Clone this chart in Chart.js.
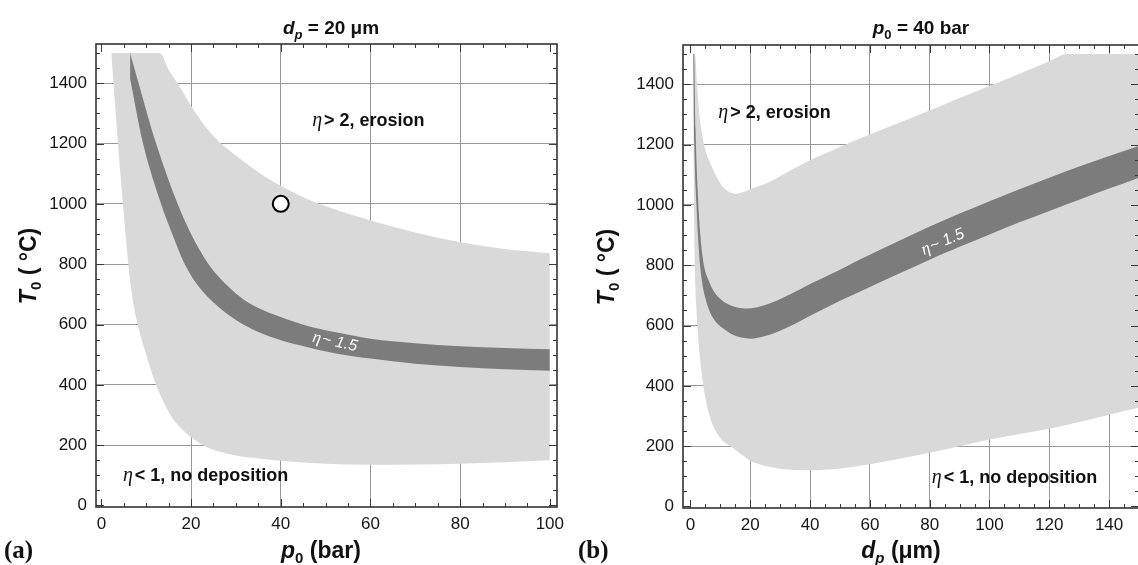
<!DOCTYPE html>
<html><head><meta charset="utf-8"><title>eta regions</title>
<script src="https://cdn.jsdelivr.net/npm/chart.js@4.4.1/dist/chart.umd.min.js"></script>
<style>
html,body{margin:0;padding:0;background:#fff;overflow:hidden}
#wrap{position:relative;width:1138px;height:565px;overflow:hidden;background:#fff}
#ca{position:absolute;left:0;top:0}
#cb{position:absolute;left:570px;top:0}
</style></head><body>
<div id="wrap"><canvas id="ca" width="570" height="565"></canvas><canvas id="cb" width="570" height="565"></canvas></div>
<script>
// ---------------- data ----------------
const aTickX = [0, 20, 40, 60, 80, 100];
const bTickX = [0, 20, 40, 60, 80, 100, 120, 140];
const tickT  = [0, 200, 400, 600, 800, 1000, 1200, 1400];

// (a) d_p = 20 um : T0 vs p0
const aLightTopP = [2.2, 13, 15, 17, 20, 23, 26.7, 30, 35, 40, 45, 50, 60, 70, 80, 90, 100];
const aLightTopT = [1500, 1500, 1445, 1400, 1325, 1260, 1200, 1160, 1105, 1060, 1022, 992, 945, 905, 873, 850, 836];
const aLightBotP = [2.2, 3.0, 3.7, 4.8, 6.0, 6.4, 7.2, 8.1, 10.0, 12.2, 15.4, 18.5, 22.7, 26, 30, 35, 40, 50, 60, 70, 80, 90, 100];
const aLightBotT = [1500, 1340, 1200, 1000, 800, 746, 665, 600, 500, 400, 300, 245, 200, 180, 166, 156, 148, 138, 135, 136, 138, 143, 150];
const aBandTopP  = [6.4, 8.3, 12.2, 17, 20, 23.9, 28, 32, 36, 40, 46, 52, 60, 70, 80, 90, 100];
const aBandTopT  = [1500, 1400, 1200, 1000, 900, 800, 730, 680, 648, 625, 595, 575, 553, 538, 528, 522, 518];
const aBandBotP  = [5.3, 6.6, 9.3, 13.3, 15.8, 18.6, 22, 26, 30, 35, 40, 46, 52, 60, 70, 80, 90, 100];
const aBandBotT  = [1500, 1400, 1200, 1000, 900, 800, 720, 660, 615, 575, 548, 525, 505, 487, 470, 459, 452, 447];
const aPointP = [40];
const aPointT = [1000];

// (b) p0 = 40 bar : T0 vs d_p
const bLightTopD = [0.9, 1.5, 2.2, 2.9, 3.7, 5, 7, 9, 10.8, 13, 15, 17, 20, 25, 30, 35, 40, 50, 60, 70, 80, 90, 100, 110, 120, 126, 150];
const bLightTopT = [1500, 1500, 1400, 1310, 1245, 1180, 1130, 1088, 1060, 1043, 1037, 1040, 1052, 1070, 1095, 1122, 1148, 1192, 1233, 1273, 1313, 1354, 1394, 1435, 1476, 1500, 1500];
const bLightBotD = [0.9, 1.1, 1.35, 1.6, 2, 2.5, 3.2, 4, 5, 6, 7, 8, 9, 10.8, 13, 15.4, 17.5, 19.9, 22, 25, 30, 35, 40, 50, 60, 70, 80, 90, 100, 110, 120, 130, 140, 150];
const bLightBotT = [1500, 1100, 850, 740, 650, 570, 490, 420, 360, 315, 282, 258, 240, 218, 202, 185, 169, 152, 143, 134, 125, 121, 120, 126, 140, 158, 178, 200, 222, 240, 258, 280, 304, 328];
const bBandTopD  = [0.9, 1.2, 1.7, 2.4, 3.3, 4.5, 6, 8, 10.5, 14, 19, 25, 30, 35, 40, 43, 50, 54, 60, 70, 80, 85, 90, 100, 110, 120, 130, 140, 150];
const bBandTopT  = [1500, 1500, 1250, 1050, 900, 800, 752, 710, 684, 665, 656, 668, 688, 712, 738, 752, 785, 806, 835, 882, 928, 950, 971, 1012, 1052, 1090, 1127, 1162, 1195];
const bBandBotD  = [0.9, 1.3, 2.0, 2.8, 3.8, 5, 6.5, 8.5, 11, 14, 17, 20, 25, 30, 35, 40, 45, 50, 54, 60, 70, 80, 85, 90, 100, 110, 120, 130, 140, 150];
const bBandBotT  = [1500, 1200, 1000, 850, 750, 690, 645, 612, 590, 570, 560, 556, 565, 583, 606, 632, 657, 682, 700, 728, 773, 818, 840, 861, 902, 942, 980, 1017, 1054, 1090];

// ---------------- fonts ----------------
function hasFont(name) {
  const c = document.createElement('canvas').getContext('2d');
  const s = 'mmmmmwwwwlli1400';
  c.font = '40px monospace'; const w1 = c.measureText(s).width;
  c.font = '40px "' + name + '", monospace'; const w2 = c.measureText(s).width;
  c.font = '40px serif'; const w3 = c.measureText(s).width;
  c.font = '40px "' + name + '", serif'; const w4 = c.measureText(s).width;
  return w1 !== w2 || w3 !== w4;
}
const NARROW = hasFont('Liberation Sans Narrow');
const TICK_FONT = NARROW ? {family: '"Liberation Sans Narrow", "Liberation Sans", sans-serif', size: 21}
                         : {family: '"Liberation Sans", Arial, sans-serif', size: 17};
const SANS = '"Liberation Sans", Arial, sans-serif';
const SERIF = '"Liberation Serif", "Times New Roman", serif';
const B  = s => 'bold ' + s + 'px ' + SANS;
const BI = s => 'italic bold ' + s + 'px ' + SANS;
const I  = s => 'italic ' + s + 'px ' + SANS;
const ETA = s => 'italic ' + s + 'px ' + SERIF;

// ---------------- helpers ----------------
const pts = (xs, ys) => xs.map((x, i) => ({x: x, y: ys[i]}));
const LIGHT = '#d9d9d9';
const DARK = '#7c7c7c';
const GRID = '#999999';

function drawRich(ctx, parts, x, y, align, rot, baseline) {
  ctx.save();
  ctx.translate(x, y);
  if (rot) ctx.rotate(rot);
  ctx.textBaseline = baseline || 'alphabetic';
  ctx.textAlign = 'left';
  let w = 0;
  parts.forEach(p => { ctx.font = p[1]; w += ctx.measureText(p[0]).width + (p[3] || 0); });
  let cx = align === 'center' ? -w / 2 : (align === 'right' ? -w : 0);
  parts.forEach(p => {
    ctx.font = p[1];
    ctx.fillStyle = p[4] || '#111';
    ctx.fillText(p[0], cx, p[2] || 0);
    cx += ctx.measureText(p[0]).width + (p[3] || 0);
  });
  ctx.restore();
}

const framePlugin = {
  id: 'frameTicks',
  afterDatasetsDraw(chart, args, opts) {
    const {ctx, chartArea: a} = chart;
    const xs = chart.scales.x, ys = chart.scales.y;
    ctx.save();
    ctx.strokeStyle = '#3a3a3a';
    ctx.lineWidth = 1;
    const xStart = Math.ceil(xs.min / opts.xMinor) * opts.xMinor;
    for (let v = xStart; v <= xs.max + 1e-9; v += opts.xMinor) {
      const px = Math.round(xs.getPixelForValue(v)) + 0.5;
      const L = (Math.abs(v % opts.xMajor) < 1e-9) ? 8 : 4;
      ctx.beginPath();
      ctx.moveTo(px, a.bottom); ctx.lineTo(px, a.bottom - L);
      ctx.moveTo(px, a.top); ctx.lineTo(px, a.top + L);
      ctx.stroke();
    }
    const yStart = Math.ceil(ys.min / opts.yMinor) * opts.yMinor;
    for (let v = yStart; v <= ys.max + 1e-9; v += opts.yMinor) {
      const py = Math.round(ys.getPixelForValue(v)) + 0.5;
      const L = (Math.abs(v % opts.yMajor) < 1e-9) ? 8 : 4;
      ctx.beginPath();
      ctx.moveTo(a.left, py); ctx.lineTo(a.left + L, py);
      ctx.moveTo(a.right, py); ctx.lineTo(a.right - L, py);
      ctx.stroke();
    }
    ctx.strokeStyle = '#333';
    ctx.lineWidth = 1.6;
    ctx.strokeRect(a.left, a.top, a.right - a.left, a.bottom - a.top);
    ctx.restore();
  }
};

const textPlugin = {
  id: 'richText',
  afterDraw(chart, args, opts) {
    const ctx = chart.ctx, xs = chart.scales.x, ys = chart.scales.y;
    (opts.items || []).forEach(it => {
      const x = it.data ? xs.getPixelForValue(it.data[0]) : it.px[0];
      const y = it.data ? ys.getPixelForValue(it.data[1]) : it.px[1];
      drawRich(ctx, it.parts, x, y, it.align || 'left', it.rot || 0, it.baseline);
    });
  }
};

function makeChart(canvas, c) {
  const W = canvas.width, H = canvas.height;
  return new Chart(canvas, {
    type: 'line',
    data: {datasets: c.datasets},
    options: {
      responsive: false,
      animation: false,
      events: [],
      layout: {padding: {left: 0, top: c.area.top, right: W - c.area.right, bottom: 0}},
      plugins: {
        legend: {display: false},
        tooltip: {enabled: false},
        title: {display: false},
        frameTicks: {xMinor: 5, xMajor: 20, yMinor: 50, yMajor: 200},
        richText: {items: c.texts}
      },
      scales: {
        x: {
          type: 'linear', min: c.xMin, max: c.xMax,
          afterBuildTicks: s => { s.ticks = c.ticksX.map(v => ({value: v})); },
          afterFit: s => { s.height = H - c.area.bottom; s.paddingLeft = 0; s.paddingRight = 0; s.paddingTop = 0; s.paddingBottom = 0; },
          grid: {
            drawTicks: false,
            color: g => (g.tick && c.noGridX.indexOf(g.tick.value) >= 0) ? 'rgba(0,0,0,0)' : GRID,
            lineWidth: 1
          },
          border: {display: false},
          ticks: {
            padding: NARROW ? 4 : 7, maxRotation: 0, autoSkip: false, color: '#161616',
            font: TICK_FONT, callback: v => String(v)
          }
        },
        y: {
          type: 'linear', min: -5, max: 1530,
          afterBuildTicks: s => { s.ticks = tickT.map(v => ({value: v})); },
          afterFit: s => { s.width = c.area.left; s.paddingLeft = 0; s.paddingRight = 0; s.paddingTop = 0; s.paddingBottom = 0; },
          grid: {
            drawTicks: false,
            color: g => (g.tick && g.tick.value === 0) ? 'rgba(0,0,0,0)' : GRID,
            lineWidth: 1
          },
          border: {display: false},
          ticks: {padding: 9, color: '#161616', font: TICK_FONT, callback: v => String(v)}
        }
      }
    },
    plugins: [framePlugin, textPlugin]
  });
}

function regionSets(pointSet, bandTop, bandBot, lightTop, lightBot) {
  const base = {showLine: true, borderColor: 'rgba(0,0,0,0)', borderWidth: 0, pointRadius: 0,
                cubicInterpolationMode: 'monotone'};
  return [
    {data: pointSet, showLine: false, pointRadius: 8, pointBackgroundColor: '#fff',
     pointBorderColor: '#000', pointBorderWidth: 2, fill: false},
    Object.assign({data: bandTop, fill: 2, backgroundColor: DARK}, base),
    Object.assign({data: bandBot, fill: false}, base),
    Object.assign({data: lightTop, fill: 4, backgroundColor: LIGHT}, base),
    Object.assign({data: lightBot, fill: false}, base)
  ];
}

// ---------------- chart (a) ----------------
makeChart(document.getElementById('ca'), {
  xMin: -1.2, xMax: 101.6, ticksX: aTickX, noGridX: [0, 100],
  area: {left: 96, right: 557, top: 44, bottom: 507},
  datasets: regionSets(pts(aPointP, aPointT), pts(aBandTopP, aBandTopT), pts(aBandBotP, aBandBotT),
                       pts(aLightTopP, aLightTopT), pts(aLightBotP, aLightBotT)),
  texts: [
    {px: [331, 34], align: 'center', parts: [['d', BI(19)], ['p', BI(13), 5], [' = 20 \u03bcm', B(19)]]},
    {px: [321, 558], align: 'center', parts: [['p', BI(23)], ['0', B(15), 5], [' (bar)', B(23)]]},
    {px: [36, 266], align: 'center', rot: -Math.PI / 2, parts: [['T', BI(23)], ['0', B(15), 5], [' ( \u00b0C)', B(23)]]},
    {px: [4, 558], parts: [['(a)', 'bold 25px ' + SERIF]]},
    {data: [47, 1258], parts: [['\u03b7', ETA(20), 0, 2], ['> 2, erosion', B(18)]]},
    {data: [4.8, 81], parts: [['\u03b7', ETA(20), 0, 2], ['< 1, no deposition', B(18)]]},
    {data: [52.1, 542], align: 'center', baseline: 'middle', rot: 0.215,
     parts: [['\u03b7', ETA(17), 0, 1, '#fff'], ['~ 1.5', I(16), 0, 0, '#fff']]}
  ]
});

// ---------------- chart (b) ----------------
makeChart(document.getElementById('cb'), {
  xMin: -2.5, xMax: 150, ticksX: bTickX, noGridX: [0],
  area: {left: 113, right: 569, top: 45, bottom: 508},
  datasets: regionSets([], pts(bBandTopD, bBandTopT), pts(bBandBotD, bBandBotT),
                       pts(bLightTopD, bLightTopT), pts(bLightBotD, bLightBotT)),
  texts: [
    {px: [351, 34], align: 'center', parts: [['p', BI(19)], ['0', B(13), 5], [' = 40 bar', B(19)]]},
    {px: [331, 558], align: 'center', parts: [['d', BI(23)], ['p', BI(15), 5], [' (\u03bcm)', B(23)]]},
    {px: [44, 267], align: 'center', rot: -Math.PI / 2, parts: [['T', BI(23)], ['0', B(15), 5], [' ( \u00b0C)', B(23)]]},
    {px: [8, 558], parts: [['(b)', 'bold 25px ' + SERIF]]},
    {data: [9.3, 1288], parts: [['\u03b7', ETA(20), 0, 2], ['> 2, erosion', B(18)]]},
    {data: [80.7, 79], parts: [['\u03b7', ETA(20), 0, 2], ['< 1, no deposition', B(18)]]},
    {data: [84.4, 877], align: 'center', baseline: 'middle', rot: -0.40,
     parts: [['\u03b7', ETA(17), 0, 1, '#fff'], ['~ 1.5', I(16), 0, 0, '#fff']]}
  ]
});
</script>
</body></html>
